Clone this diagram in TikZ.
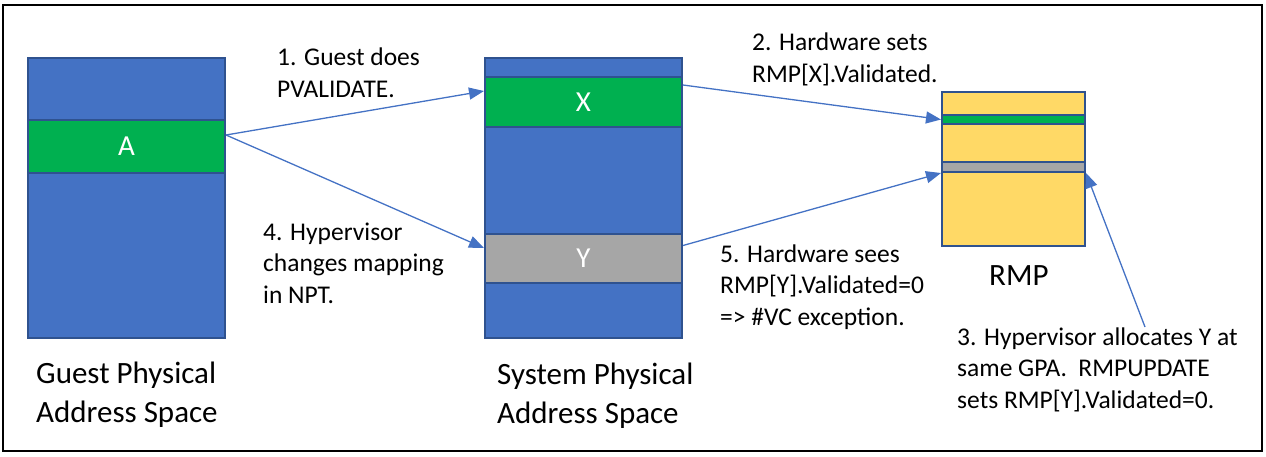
\documentclass[tikz,border=0pt]{standalone}
\usepackage{fontspec}
\setmainfont{Carlito}
\usetikzlibrary{arrows.meta}
\definecolor{bfill}{RGB}{68,114,196}
\definecolor{bline}{RGB}{47,82,143}
\definecolor{gfill}{RGB}{0,176,80}
\definecolor{gray1}{RGB}{166,166,166}
\definecolor{yfill}{RGB}{255,217,102}
\definecolor{arr}{RGB}{68,114,196}
\tikzset{
  membox/.style={draw=bline,line width=2pt,rectangle,inner sep=0pt},
  lbl/.style={anchor=base west,align=left,inner sep=0pt,font=\fontsize{25.5}{31.3}\selectfont},
  biglbl/.style={anchor=base west,align=left,inner sep=0pt,font=\fontsize{31}{38.7}\selectfont},
  bandtxt/.style={text=white,font=\fontsize{29}{32}\selectfont},
  conn/.style={draw=arr,line width=1.3pt,-{Triangle[length=15pt,width=12pt]}},
}
\begin{document}
\begin{tikzpicture}[x=1pt,y=-1pt]
\useasboundingbox (0,0) rectangle (1266,456);
\draw[line width=2pt] (3,5) rectangle (1262,451);
% guest
\node[membox,fill=bfill,minimum width=197pt,minimum height=280pt] (G) at (126.5,198) {};
\node[membox,fill=gfill,minimum width=197pt,minimum height=53pt,bandtxt] (A) at (126.5,146.5) {A};
% system
\node[membox,fill=bfill,minimum width=197pt,minimum height=280pt] (S) at (583.5,198) {};
\node[membox,fill=gfill,minimum width=197pt,minimum height=50pt,bandtxt] (X) at (583.5,102) {X};
\node[membox,fill=gray1,minimum width=197pt,minimum height=49pt,bandtxt] (Y) at (583.5,258.5) {Y};
% RMP
\node[membox,fill=yfill,minimum width=143pt,minimum height=154pt] (R) at (1013.5,169) {};
\node[membox,fill=gfill,minimum width=143pt,minimum height=9pt] (rg) at (1013.5,119.5) {};
\node[membox,fill=gray1,minimum width=143pt,minimum height=10pt] (ry) at (1013.5,167) {};
% labels (anchor = baseline of last line)
\node[lbl] (t1) at (277,97) {1. Guest does\\PVALIDATE.};
\node[lbl] (t2) at (752,82) {2. Hardware sets\\RMP[X].Validated.};
\node[lbl] (t4) at (263,303) {4. Hypervisor\\changes mapping\\in NPT.};
\node[lbl] (t5) at (720,325) {5. Hardware sees\\RMP[Y].Validated=0\\=> \#VC exception.};
\node[lbl] (t3) at (957,408) {3. Hypervisor allocates Y at\\same GPA.\ \ RMPUPDATE\\sets RMP[Y].Validated=0.};
\node[biglbl] (tg) at (36,422) {Guest Physical\\Address Space};
\node[biglbl] (ts) at (497,423) {System Physical\\Address Space};
\node[biglbl] (tr) at (989,285) {RMP};
% connectors
\coordinate (c3) at (1145,327);
\draw[conn] ([yshift=11.5pt]A.east) -- ([yshift=11pt]X.west);
\draw[conn] ([yshift=11.5pt]A.east) -- ([yshift=10.5pt]Y.west);
\draw[conn] ([yshift=17pt]X.east) -- (rg.west);
\draw[conn] ([yshift=13pt]Y.east) -- (ry.south west);
\draw[conn] (c3) -- (ry.south east);
\end{tikzpicture}
\end{document}
